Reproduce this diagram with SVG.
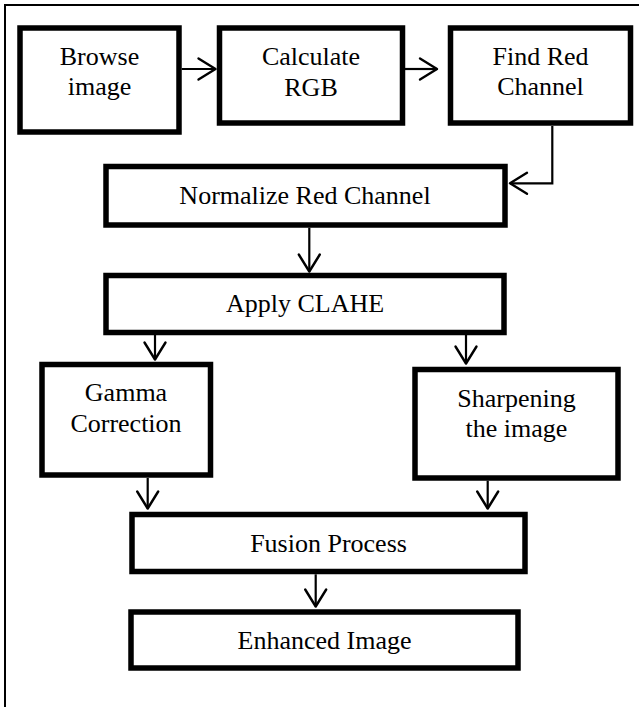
<svg xmlns="http://www.w3.org/2000/svg" width="639" height="707" viewBox="0 0 639 707">
  <style>
    .box { fill: #ffffff; stroke: #000000; stroke-width: 5.5; }
    .lbl { font-family: "Liberation Serif", "Times New Roman", serif; font-size: 26px; fill: #000000; text-anchor: middle; }
    .edge { fill: none; stroke: #000000; stroke-width: 2.2; marker-end: url(#head); }
    .frame { fill: none; stroke: #000000; stroke-width: 2; }
  </style>
  <defs>
    <marker id="head" markerUnits="userSpaceOnUse" viewBox="-20 -13 24 26" markerWidth="24" markerHeight="26" refX="0" refY="0" orient="auto">
      <path d="M-17,-10.5 L0,0 L-17,10.5" fill="none" stroke="#000000" stroke-width="2.4" stroke-linejoin="round" stroke-linecap="round"/>
    </marker>
  </defs>

  <rect width="639" height="707" fill="#ffffff"/>
  <path class="frame" d="M5,707 V5 H639"/>

  <g id="connectors">
    <path class="edge" d="M181.7,69 H215.5"/>
    <path class="edge" d="M405,69 H437"/>
    <path class="edge" d="M552.3,126 V183.3 H510"/>
    <path class="edge" d="M309.3,227.7 V271.5"/>
    <path class="edge" d="M155,335 V359.5"/>
    <path class="edge" d="M466,335 V363.5"/>
    <path class="edge" d="M147.7,478 V508.5"/>
    <path class="edge" d="M487.7,480.7 V508.5"/>
    <path class="edge" d="M315.7,574.3 V606.5"/>
  </g>

  <g id="browse">
    <rect class="box" x="20" y="28" width="159" height="104"/>
    <text class="lbl" x="99.5" y="65">Browse</text>
    <text class="lbl" x="99.5" y="95">image</text>
  </g>
  <g id="calculate">
    <rect class="box" x="219.5" y="28" width="183" height="95"/>
    <text class="lbl" x="311" y="65">Calculate</text>
    <text class="lbl" x="311" y="96">RGB</text>
  </g>
  <g id="find-red">
    <rect class="box" x="450.5" y="28" width="180" height="95"/>
    <text class="lbl" x="540.5" y="65">Find Red</text>
    <text class="lbl" x="540.5" y="95">Channel</text>
  </g>
  <g id="normalize">
    <rect class="box" x="106" y="166.5" width="399" height="58.5"/>
    <text class="lbl" x="305" y="204.3">Normalize Red Channel</text>
  </g>
  <g id="clahe">
    <rect class="box" x="106" y="275.5" width="398" height="57"/>
    <text class="lbl" x="305" y="312.3">Apply CLAHE</text>
  </g>
  <g id="gamma">
    <rect class="box" x="42" y="364.5" width="168.5" height="110.5"/>
    <text class="lbl" x="126" y="401">Gamma</text>
    <text class="lbl" x="126" y="431.7">Correction</text>
  </g>
  <g id="sharpen">
    <rect class="box" x="415" y="369.5" width="203" height="108.5"/>
    <text class="lbl" x="516.5" y="407">Sharpening</text>
    <text class="lbl" x="516.5" y="436.7">the image</text>
  </g>
  <g id="fusion">
    <rect class="box" x="132" y="514.5" width="393" height="57"/>
    <text class="lbl" x="328.5" y="551.7">Fusion Process</text>
  </g>
  <g id="enhanced">
    <rect class="box" x="131" y="612" width="387" height="56"/>
    <text class="lbl" x="324.5" y="649">Enhanced Image</text>
  </g>
</svg>
